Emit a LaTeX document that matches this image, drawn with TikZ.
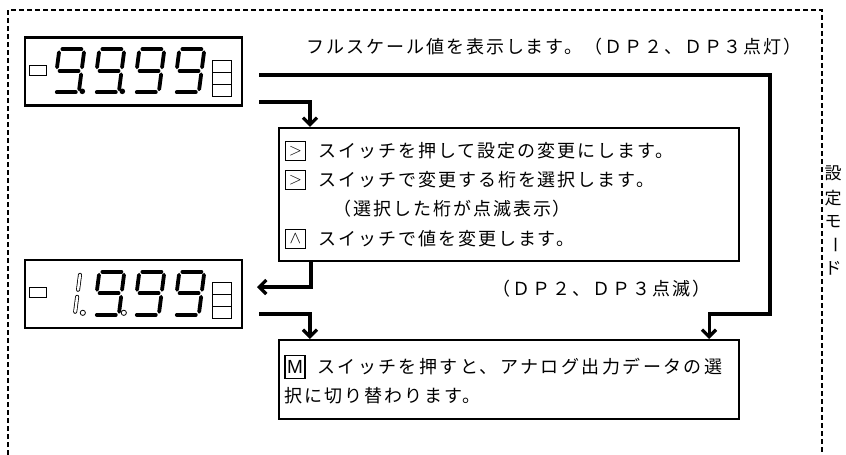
\documentclass[tikz,border=0pt]{standalone}
\usepackage{fontspec}
\setsansfont{Liberation Sans}
\newfontfamily\jp{Noto Sans CJK JP}
\newfontfamily\jpwide{Noto Sans CJK JP}[LetterSpace=11]
\newfontfamily\jpwider{Noto Sans CJK JP}[LetterSpace=13.5]
\usetikzlibrary{arrows.meta,positioning}
\tikzstyle{conn} = [line width=3.2pt]
\tikzstyle{arrow} = [conn,-{Straight Barb[length=7pt,width=14pt]}]
\tikzstyle{panel} = [draw,line width=2.4pt,minimum width=217pt,minimum height=68pt,inner sep=0pt]
\tikzstyle{msgbox} = [draw,line width=2.2pt,minimum width=460pt,inner sep=0pt]
\tikzstyle{keybox} = [draw,line width=1.6pt,minimum width=20pt,minimum height=19pt,inner sep=0pt,font=\fontsize{18}{18}\selectfont]
\tikzstyle{txt} = [anchor=west,inner sep=0pt,font=\jpwide\fontsize{18}{20}\selectfont]
\tikzstyle{seg} = [line width=3.8pt,line cap=round]
\tikzstyle{hollowseg} = [line width=0.8pt,double=white,double distance=2.4pt,line cap=round]

% seven segment nine, #1 = left x, #2 = bottom y
\newcommand\ninedigit[2]{%
  \begin{scope}[shift={(#1,#2)},xslant=0.13]
    \draw[seg] (3,-43) -- (22,-43);
    \draw[seg] (0,-25) -- (0,-40) (25,-25) -- (25,-40);
    \draw[seg] (3,-21.5) -- (22,-21.5);
    \draw[seg] (25,-3) -- (25,-18);
    \draw[seg] (3,0) -- (22,0);
  \end{scope}}
% minus lamp and three unit lamps
\newcommand\lamps{%
  \draw[line width=1.2pt] (6,29) rectangle (23,39);
  \foreach \y in {24,36,48}
    \draw[line width=1.2pt] (189,\y) rectangle (208,\y+12);}

\begin{document}
\begin{tikzpicture}[x=1pt,y=-1pt]
  \useasboundingbox (0,0) rectangle (846,455);
  % frame
  \draw[line width=1.3pt,dash pattern=on 5pt off 3pt] (8,455) -- (8,10) -- (822,10) -- (822,455);

  % displays
  \node[panel] (disp1) at (133.5,71.5) {};
  \node[panel] (disp2) at (133.5,294) {};
  \begin{scope}[shift={(disp1.north west)}]
    \lamps
    \foreach \x in {30,70,110,150} \ninedigit{\x}{56};
    \fill (58.5,55) circle (2.8pt) (98.5,55) circle (2.8pt);
  \end{scope}
  \begin{scope}[shift={(disp2.north west)}]
    \lamps
    \begin{scope}[shift={(26,56)},xslant=0.13]
      \draw[hollowseg] (25,-25) -- (25,-40) (25,-3) -- (25,-18);
    \end{scope}
    \foreach \x in {70,110,150} \ninedigit{\x}{56};
    \draw[line width=0.8pt] (59,54) circle (2.6pt) (100,54) circle (2.6pt);
  \end{scope}

  % message boxes
  \node[msgbox,minimum height=133pt] (setbox) at (509,194.5) {};
  \node[msgbox,minimum height=79pt] (lowbox) at (509,379.5) {};

  \node[keybox] (k1) at (295.5,151) {$>$};
  \node[keybox] (k2) at (295.5,180) {$>$};
  \node[keybox] (k3) at (295.5,239) {$\wedge$};
  \node[keybox,minimum height=23pt] (km) at (295,367) {\sffamily\fontsize{19}{19}\selectfont M};
  \node[txt] (t1) at (318,151) {スイッチを押して設定の変更にします。};
  \node[txt] (t2) at (318,180) {スイッチで変更する桁を選択します。};
  \node[txt] (t3) at (333,209) {（選択した桁が点滅表示）};
  \node[txt] (t4) at (318,239) {スイッチで値を変更します。};
  \node[txt,font=\jpwider\fontsize{18}{20}\selectfont] (t5) at (317,367) {スイッチを押すと、アナログ出力データの選};
  \node[txt] (t6) at (284,396) {択に切り替わります。};

  \node[txt] (full) at (306,47) {フルスケール値を表示します。（ＤＰ２、ＤＰ３点灯）};
  \node[txt] (blink) at (492,289) {（ＤＰ２、ＤＰ３点滅）};

  % side label
  \foreach \ch/\y in {設/173,定/198,モ/222,ド/268}
    \node[inner sep=0pt,font=\jp\fontsize{17}{17}\selectfont] at (833,\y) {\ch};
  \node[inner sep=0pt,rotate=-90,font=\jp\fontsize{17}{17}\selectfont] at (833,245) {ー};

  % connectors
  \coordinate (fs1) at (259,75);
  \coordinate (fs2) at (259,102);
  \coordinate (fs4) at (259,314);
  \coordinate (back) at (257,287);
  \coordinate (rtop) at (770,75);
  \coordinate (rbot) at (770,314);
  \draw[arrow] (fs1) -- (rtop) -- (rbot) -| ([xshift=-31pt]lowbox.north east);
  \draw[arrow] (fs2) -| ([xshift=32pt]setbox.north west);
  \draw[arrow] ([xshift=33pt]setbox.south west) |- (back);
  \draw[arrow] (fs4) -| ([xshift=32pt]lowbox.north west);
\end{tikzpicture}
\end{document}
